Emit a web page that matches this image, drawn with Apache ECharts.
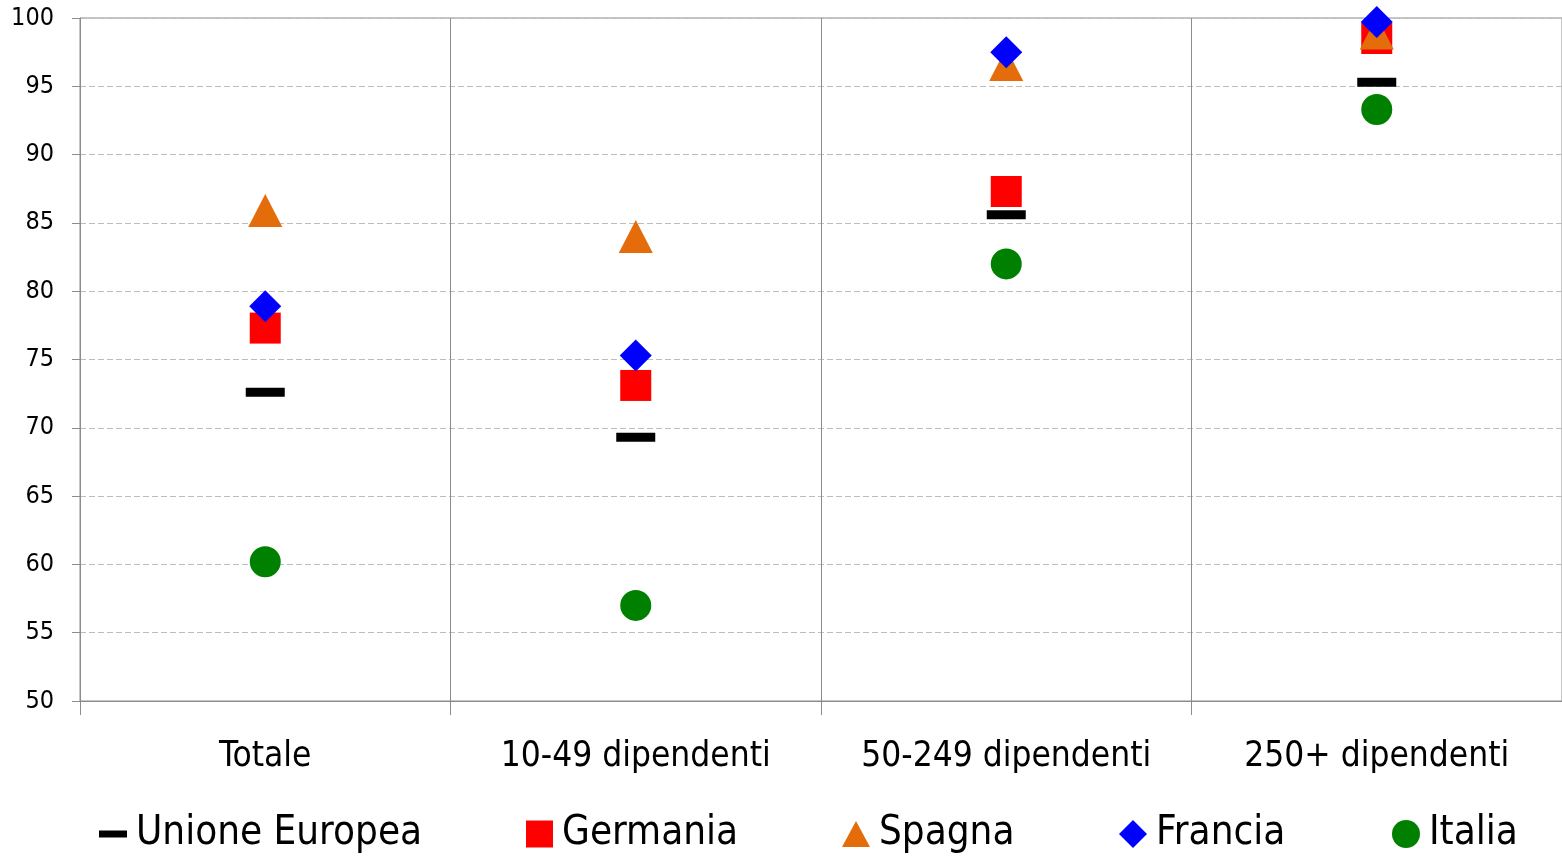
<!DOCTYPE html>
<html>
<head>
<meta charset="utf-8">
<script src="https://cdn.jsdelivr.net/npm/echarts@6/dist/echarts.min.js"></script>
<style>
  html, body { margin: 0; padding: 0; background: #fff; }
  #chart { width: 1562px; height: 856px; }
</style>
</head>
<body>
<div id="chart"></div>
<script>
// Classi di addetti
const categories = ['Totale', '10-49 dipendenti', '50-249 dipendenti', '250+ dipendenti'];

// Valori percentuali per paese
const unioneEuropea = [72.6, 69.3, 85.6, 95.3];
const germania      = [77.3, 73.1, 87.3, 98.5];
const spagna        = [85.9, 84.0, 96.6, 98.9];
const francia       = [78.9, 75.3, 97.5, 99.7];
const italia        = [60.2, 57.0, 82.0, 93.3];

const yTicks = { min: 50, max: 100, step: 5 };

const FONT = '"Liberation Sans Narrow", "DejaVu Sans Condensed", "Liberation Sans", sans-serif';

const seriesDefs = [
  { name: 'Unione Europea', data: unioneEuropea, symbol: 'rect',     size: [39, 9],  color: '#000000' },
  { name: 'Germania',       data: germania,      symbol: 'rect',     size: [31, 31], color: '#ff0000' },
  { name: 'Spagna',         data: spagna,        symbol: 'triangle', size: [34, 33], color: '#e46c0a' },
  { name: 'Francia',        data: francia,       symbol: 'diamond',  size: [32, 32], color: '#0000ff' },
  { name: 'Italia',         data: italia,        symbol: 'circle',   size: [31, 31], color: '#008000' }
];

// Legend entries are placed one by one along the bottom row
const legendLayout = [
  { left: 99,   w: 28, h: 7 },
  { left: 526,  w: 27, h: 27 },
  { left: 842,  w: 28, h: 26 },
  { left: 1119, w: 28, h: 28 },
  { left: 1392, w: 28, h: 28 }
];

const chart = echarts.init(document.getElementById('chart'), null, { renderer: 'canvas' });

chart.setOption({
  animation: false,
  backgroundColor: '#ffffff',
  grid: {
    left: 80, right: 0, top: 18, bottom: 155,
    show: true, borderColor: '#8c8c8c', borderWidth: 1, backgroundColor: 'transparent'
  },
  legend: seriesDefs.map((s, i) => ({
    data: [s.name],
    left: legendLayout[i].left,
    top: 814,
    itemWidth: legendLayout[i].w,
    itemHeight: legendLayout[i].h,
    itemGap: 0,
    padding: 0,
    textStyle: { fontFamily: FONT, fontSize: 40, color: '#000', padding: [0, 0, 0, 4] }
  })),
  xAxis: {
    type: 'category',
    data: categories,
    boundaryGap: true,
    axisLine: { show: true, lineStyle: { color: '#8c8c8c', width: 1 } },
    axisTick: { show: true, interval: 0, length: 14, lineStyle: { color: '#8c8c8c' } },
    splitLine: { show: true, interval: 0, lineStyle: { color: '#8c8c8c', width: 1, type: 'solid' } },
    axisLabel: { interval: 0, fontFamily: FONT, fontSize: 35, color: '#000', margin: 38 }
  },
  yAxis: {
    type: 'value',
    min: yTicks.min, max: yTicks.max, interval: yTicks.step,
    axisLine: { show: true, lineStyle: { color: '#8c8c8c', width: 1 } },
    axisTick: { show: true, length: 8, lineStyle: { color: '#8c8c8c' } },
    splitLine: { show: true, lineStyle: { color: '#bdbdbd', width: 1, type: [6, 3] } },
    axisLabel: { fontFamily: FONT, fontSize: 25, color: '#000', margin: 26 }
  },
  series: seriesDefs.map(s => ({
    name: s.name,
    type: 'scatter',
    data: s.data,
    symbol: s.symbol,
    symbolSize: s.size,
    itemStyle: { color: s.color, opacity: 1 },
    emphasis: { disabled: true }
  }))
});
</script>
</body>
</html>
